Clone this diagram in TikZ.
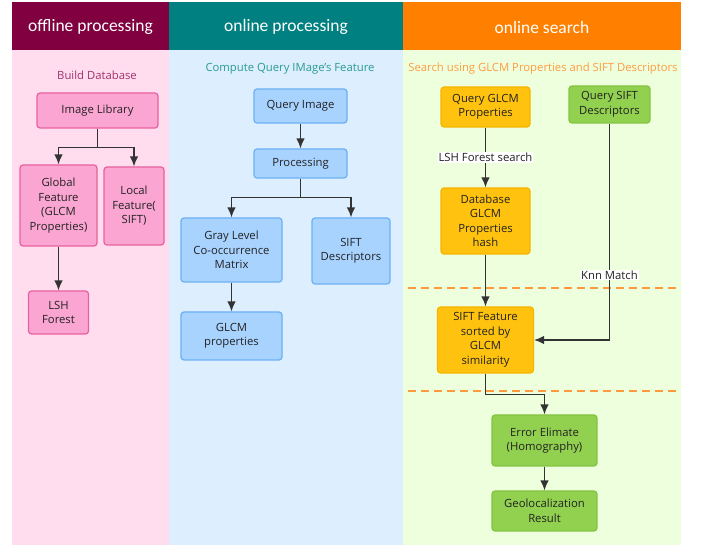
\documentclass[tikz,border=0pt]{standalone}
\usepackage{fontspec}
\setmainfont{Open Sans}
\newfontfamily\headfont{Carlito}
\usepackage{tikz}
\usetikzlibrary{arrows.meta}
\definecolor{offhead}{HTML}{800040}
\definecolor{onhead}{HTML}{008080}
\definecolor{searchhead}{HTML}{FF8000}
\definecolor{pinkbg}{HTML}{FFDDEE}
\definecolor{bluebg}{HTML}{DDEEFF}
\definecolor{greenbg}{HTML}{EEFFDD}
\definecolor{pinkfill}{HTML}{FBA6D2}
\definecolor{pinkline}{HTML}{E8609F}
\definecolor{bluefill}{HTML}{A9D3FF}
\definecolor{blueline}{HTML}{6CB0F4}
\definecolor{goldfill}{HTML}{FFC20E}
\definecolor{goldline}{HTML}{F5B400}
\definecolor{leaffill}{HTML}{92D050}
\definecolor{leafline}{HTML}{84C442}
\definecolor{textdark}{HTML}{222222}
\definecolor{linkgray}{HTML}{333333}
\definecolor{dashorange}{HTML}{FF9A3C}
\definecolor{pinktitle}{HTML}{A0306E}
\definecolor{bluetitle}{HTML}{2A9A94}
\definecolor{greentitle}{HTML}{FF9C40}

\begin{document}
\begin{tikzpicture}[x=1pt,y=-1pt,
    font=\fontsize{11.3}{14.5}\selectfont,
    box/.style={draw,rounded corners=3pt,line width=1.2pt,align=center,inner sep=0pt,text=textdark},
    pinkbox/.style={box,draw=pinkline,fill=pinkfill},
    bluebox/.style={box,draw=blueline,fill=bluefill},
    goldbox/.style={box,draw=goldline,fill=goldfill},
    leafbox/.style={box,draw=leafline,fill=leaffill},
    headtext/.style={text=white,font=\headfont\fontsize{17.5}{19}\selectfont},
    link/.style={-{Latex[length=10pt,width=8.5pt]},line width=1.5pt,draw=linkgray},
    sepline/.style={draw=dashorange,line width=1.6pt,dash pattern=on 8pt off 5pt},
    lbl/.style={fill=white,inner sep=1pt,text=textdark}
  ]
  \useasboundingbox (0,0) rectangle (705,545);
  \fill[pinkbg] (12,50) rectangle (169,545);
  \fill[bluebg] (169,50) rectangle (403,545);
  \fill[greenbg] (403,50) rectangle (681,545);
  \fill[offhead] (12,2) rectangle (169,50);
  \fill[onhead] (169,2) rectangle (403,50);
  \fill[searchhead] (403,2) rectangle (681,50);
  \node[headtext] (hoff) at (90.5,27) {offline processing};
  \node[headtext] (hon) at (286,27) {online processing};
  \node[headtext] (hsearch) at (542,27) {online search};

  \node[text=pinktitle] (tbuild) at (97,75) {Build Database};
  \node[text=bluetitle] (tquery) at (290,69) {Compute Query IMage's Feature};
  \node[text=greentitle] (tsearch) at (543,69) {Search using GLCM Properties and SIFT Descriptors};

  \node[pinkbox,minimum width=121pt,minimum height=35pt] (lib) at (97.5,110.5) {Image Library};
  \node[pinkbox,minimum width=77pt,minimum height=81pt] (glob) at (58.5,205.5) {Global\\Feature\\(GLCM\\Properties)};
  \node[pinkbox,minimum width=60pt,minimum height=78pt] (loc) at (134,206) {Local\\Feature(\\SIFT)};
  \node[pinkbox,minimum width=60pt,minimum height=43pt] (lsh) at (58.5,312.5) {LSH\\Forest};

  \node[bluebox,minimum width=93pt,minimum height=34pt] (qimg) at (300.5,106) {Query Image};
  \node[bluebox,minimum width=93pt,minimum height=29pt] (proc) at (300.5,163.5) {Processing};
  \node[bluebox,minimum width=101pt,minimum height=64pt] (gray) at (231.5,250) {Gray Level\\Co-occurrence\\Matrix};
  \node[bluebox,minimum width=78pt,minimum height=66pt] (siftd) at (351,251) {SIFT\\Descriptors};
  \node[bluebox,minimum width=101pt,minimum height=48pt] (gprop) at (231.5,336) {GLCM\\properties};

  \node[goldbox,minimum width=89pt,minimum height=40pt] (qglcm) at (485.5,107) {Query GLCM\\Properties};
  \node[leafbox,minimum width=81pt,minimum height=37pt] (qsift) at (609.5,104.5) {Query SIFT\\Descriptors};
  \node[goldbox,minimum width=89pt,minimum height=66pt] (dbhash) at (485.5,221) {Database\\GLCM\\Properties\\hash};
  \node[goldbox,minimum width=96pt,minimum height=66pt] (sorted) at (485.5,340) {SIFT Feature\\sorted by\\GLCM\\similarity};
  \node[leafbox,minimum width=105pt,minimum height=51pt] (homog) at (544.5,440.5) {Error Elimate\\(Homography)};
  \node[leafbox,minimum width=105pt,minimum height=40pt] (geo) at (544.5,511) {Geolocalization\\Result};

  \draw[sepline] (408,288) -- (678,288);
  \draw[sepline] (408,391) -- (678,391);

  \draw[link] (lib.south) -- ++(0,19) -| (glob.north);
  \draw[link] (lib.south) -- ++(0,19) -| (loc.north);
  \draw[link] (glob.south) -- (lsh.north);
  \draw[link] (qimg) -- (proc);
  \draw[link] (proc.south) -- ++(0,19) -| (gray.north);
  \draw[link] (proc.south) -- ++(0,19) -| (siftd.north);
  \draw[link] (gray) -- (gprop);
  \draw[link] (qglcm) -- node[lbl] {LSH Forest search} (dbhash);
  \draw[link] (dbhash) -- (sorted);
  \draw[link] (qsift.south) |- node[lbl,pos=0.35] {Knn Match} (sorted.east);
  \draw[link] (sorted.south) -- ++(0,21) -| (homog.north);
  \draw[link] (homog) -- (geo);
\end{tikzpicture}
\end{document}
